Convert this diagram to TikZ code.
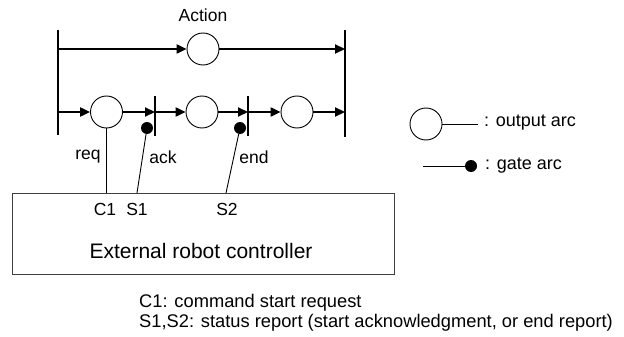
\documentclass[tikz,border=0pt]{standalone}
\usepackage{fontspec}
\setmainfont{Liberation Sans}
\usetikzlibrary{arrows.meta}

\tikzset{
  place/.style={draw, circle, minimum size=32pt, inner sep=0pt, line width=0.9pt},
  gatedot/.style={circle, fill, minimum size=12pt, inner sep=0pt},
  arc/.style={line width=2.2pt, -{Triangle[length=10pt,width=9pt]}},
  bar/.style={line width=1.3pt},
  wire/.style={line width=0.9pt},
  lbl/.style={font=\fontsize{17.5}{20}\selectfont, inner sep=0pt},
  legendtxt/.style={font=\fontsize{18}{20}\selectfont, inner sep=0pt, anchor=west}
}

\begin{document}
\begin{tikzpicture}[x=1pt, y=-1pt]
    \useasboundingbox (0,0) rectangle (624,337);

    % Bars of the action net
    \coordinate (lt) at (58,30);  \coordinate (lb) at (58,135);
    \coordinate (rt) at (345,30); \coordinate (rb) at (345,137);
    \coordinate (g1t) at (155,96); \coordinate (g1b) at (155,136);
    \coordinate (g2t) at (248,96); \coordinate (g2b) at (248,136);
    \draw[bar] (lt) -- (lb);
    \draw[bar] (rt) -- (rb);
    \draw[bar] (g1t) -- (g1b);
    \draw[bar] (g2t) -- (g2b);

    % Places
    \node[lbl] (act) at (203,15) {Action};
    \node[place] (pa) at (203,49) {};
    \node[place] (p1) at (106.5,112) {};
    \node[place] (p2) at (202,112) {};
    \node[place] (p3) at (297,112) {};

    % Arc ends on the bars
    \coordinate (l1) at (lt |- pa);  \coordinate (r1) at (rt |- pa);
    \coordinate (l2) at (lt |- p1);  \coordinate (r2) at (rt |- p1);
    \coordinate (g1) at (g1t |- p1); \coordinate (g2) at (g2t |- p1);

    % Top row
    \draw[arc] (l1) -- (pa);
    \draw[arc] (pa) -- (r1);

    % Bottom row
    \draw[arc] (l2) -- (p1);
    \draw[arc] (p1) -- (g1);
    \draw[arc] (g1) -- (p2);
    \draw[arc] (p2) -- (g2);
    \draw[arc] (g2) -- (p3);
    \draw[arc] (p3) -- (r2);

    % Gates
    \node[gatedot] (d1) at (147,128) {};
    \node[gatedot] (d2) at (240,128) {};

    % Controller box and its pins
    \node[draw=black!75, line width=1.2pt, minimum width=382pt, minimum height=81pt,
          inner sep=0pt, anchor=north west] (ctrl) at (12,193) {};
    \node[font=\fontsize{21}{24}\selectfont, inner sep=0pt] (ctrlname) at (201,251) {External robot controller};
    \coordinate (c1pin) at (p1.south |- ctrl.north);
    \coordinate (s1pin) at (137,193);
    \coordinate (s2pin) at (226,193);
    \node[lbl] (c1) at (105,209) {C1};
    \node[lbl] (s1) at (137,209) {S1};
    \node[lbl] (s2) at (227,209) {S2};

    % Signal lines
    \draw[wire] (p1) -- (c1pin);
    \draw[wire] (d1) -- (s1pin);
    \draw[wire] (d2) -- (s2pin);
    \node[lbl] (req) at (88,157) {req};
    \node[lbl] (ack) at (163,157) {ack};
    \node[lbl] (end) at (254,157) {end};

    % Legend
    \node[place] (lgp) at (426,124) {};
    \coordinate (lgpe) at (478,124);
    \draw[wire] (lgp) -- (lgpe);
    \node[legendtxt] (lgptxt) at (484,123) {: output arc};
    \coordinate (lgs) at (423,166);
    \node[gatedot] (lgd) at (471,166) {};
    \draw[wire] (lgs) -- (lgd);
    \node[legendtxt] (lgdtxt) at (485,166) {: gate arc};

    % Notes
    \node[anchor=west, align=left, inner sep=0pt, font=\fontsize{18.3}{20}\selectfont] (notes) at (139,313)
        {C1: command start request\\S1,S2: status report (start acknowledgment, or end report)};
\end{tikzpicture}
\end{document}
